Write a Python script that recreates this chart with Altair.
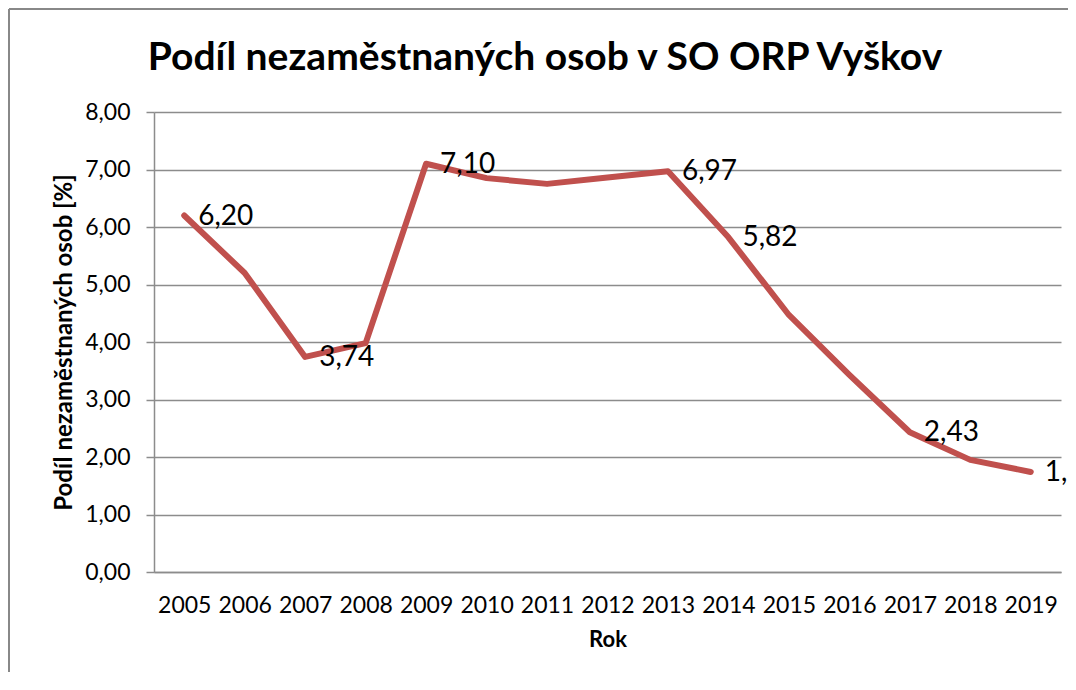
import altair as alt
import pandas as pd

years = ["2005", "2006", "2007", "2008", "2009", "2010", "2011", "2012",
         "2013", "2014", "2015", "2016", "2017", "2018", "2019"]
values = [6.20, 5.20, 3.74, 3.98, 7.10, 6.85, 6.75, 6.86,
          6.97, 5.82, 4.47, 3.43, 2.43, 1.95, 1.74]
labels = ["6,20", "", "3,74", "", "7,10", "", "", "",
          "6,97", "5,82", "", "", "2,43", "", "1,74"]
y_ticks = [0, 1, 2, 3, 4, 5, 6, 7, 8]
title_text = "Podíl nezaměstnaných osob v SO ORP Vyškov"

df = pd.DataFrame({"Rok": years, "Podil": values, "Label": labels})

FONT = "Lato"
GRID = "#8c8c8c"
RED = "#C0504D"

x_enc = alt.X("Rok:O", scale=alt.Scale(padding=0.5),
              axis=alt.Axis(title="Rok", labelAngle=0, ticks=False,
                            labelFontSize=23, labelPadding=22, labelColor="#000",
                            titleFontSize=22, titleFontWeight="bold", titlePadding=12,
                            domainColor=GRID, domainWidth=1.5, labelFont=FONT,
                            titleFont=FONT, titleColor="#000"))
y_enc = alt.Y("Podil:Q", scale=alt.Scale(domain=[0, 8], nice=False),
              axis=alt.Axis(title="Podíl nezaměstnaných osob [%]", values=y_ticks,
                            labelExpr="replace(format(datum.value, '.2f'), '.', ',')",
                            tickSize=8, tickColor=GRID, tickWidth=1.5,
                            labelFontSize=23, labelPadding=16, labelColor="#000",
                            labelFont=FONT, titleFont=FONT, titleColor="#000",
                            titleFontSize=24, titleFontWeight="bold", titlePadding=8,
                            grid=True, gridColor=GRID, gridWidth=1.5,
                            domainColor=GRID, domainWidth=1.5))

base = alt.Chart(df)

line = base.mark_line(color=RED, strokeWidth=6, strokeJoin="round", strokeCap="round").encode(
    x=x_enc, y=y_enc)

text = base.transform_filter("datum.Label != ''").mark_text(
    align="left", baseline="middle", dx=14, dy=1, fontSize=28, font=FONT, color="#000"
).encode(x=alt.X("Rok:O"), y=alt.Y("Podil:Q"), text="Label:N")

one = pd.DataFrame({"t": [title_text]})
title = alt.Chart(one).mark_text(
    align="center", baseline="alphabetic", fontSize=39, fontWeight="bold", font=FONT, color="#000"
).encode(x=alt.value(391), y=alt.value(-42), text="t:N")

border_left = alt.Chart(pd.DataFrame({"a": [0]})).mark_rule(color="#888888", strokeWidth=2).encode(
    x=alt.value(-145), y=alt.value(-103), y2=alt.value(560))
border_top = alt.Chart(pd.DataFrame({"a": [0]})).mark_rule(color="#888888", strokeWidth=2).encode(
    x=alt.value(-145), x2=alt.value(914), y=alt.value(-103))

chart = alt.layer(border_left, border_top, line, text, title).properties(
    width=907, height=460,
    background="white",
    autosize=alt.AutoSizeParams(type="none"),
    padding={"left": 146, "top": 104, "right": 7, "bottom": 100},
).configure_view(strokeWidth=0, stroke="transparent")

chart.save("out.html", embed_options={"renderer": "svg", "actions": False})
